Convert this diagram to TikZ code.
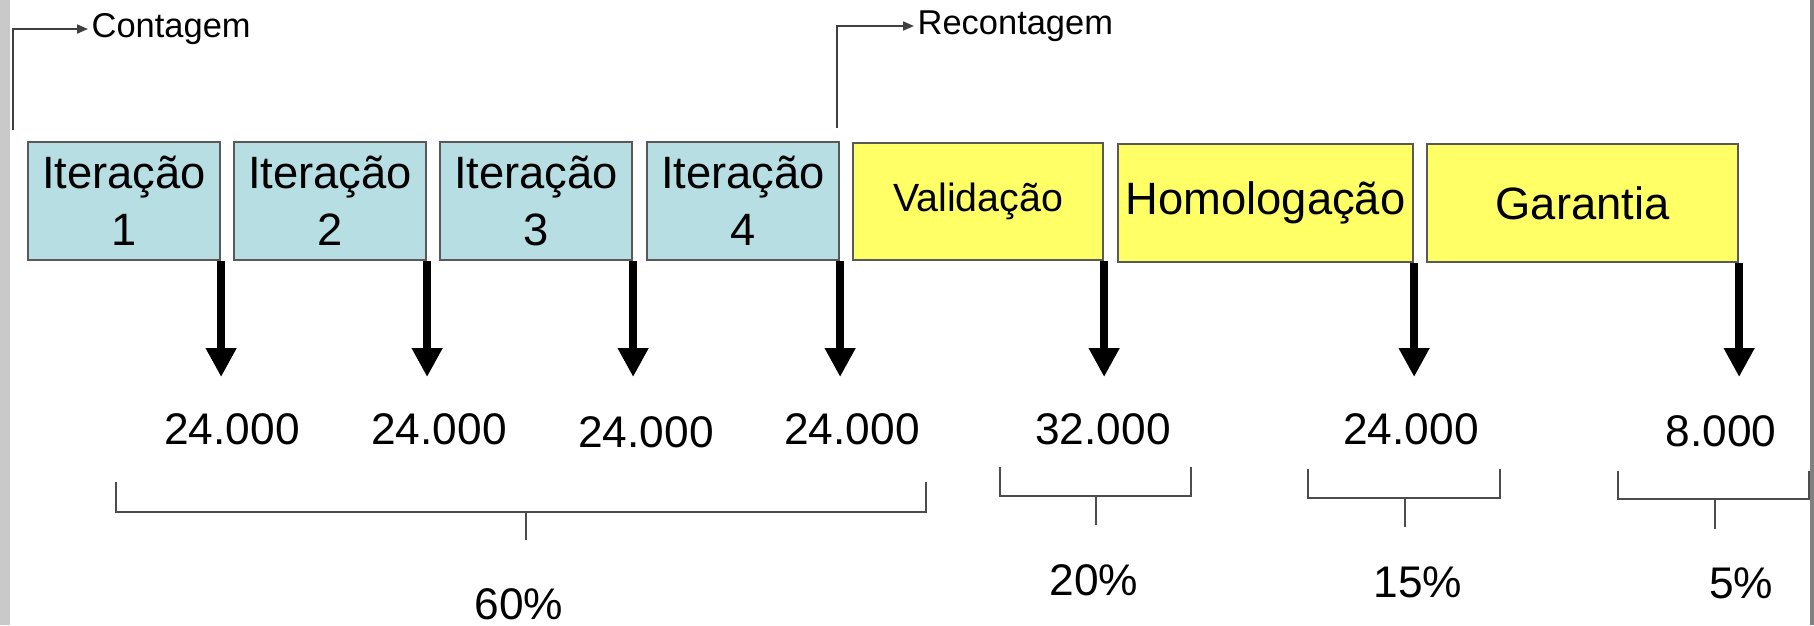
\documentclass[tikz,border=0pt]{standalone}
\usepackage{fontspec}
\setmainfont{Liberation Sans}
\usetikzlibrary{arrows.meta}

\definecolor{iterblue}{RGB}{183,222,226}
\definecolor{phaseyellow}{RGB}{255,255,102}

\begin{document}
\begin{tikzpicture}[
		>={Triangle[length=0.11cm,width=0.09cm]},
		flow/.style={->,draw=black!75,line width=0.5pt},
		note/.style={anchor=west,inner sep=0.03cm,font=\fontsize{9.8}{12}\selectfont},
		phase/.style={draw=black!65,line width=0.6pt,inner sep=0pt,align=center,anchor=north west,
			minimum height=1.18cm,font=\fontsize{12.9}{16.2}\selectfont},
		iter/.style={phase,fill=iterblue,minimum width=1.92cm},
		post/.style={phase,fill=phaseyellow},
		payout/.style={line width=0.08cm,-{Triangle[length=0.29cm,width=0.29cm]}},
		amount/.style={inner sep=0pt,font=\fontsize{12.6}{15}\selectfont},
		bracket/.style={draw=black!70,line width=0.6pt}
	]
		\useasboundingbox (0,0) rectangle (18.14,-6.25);

		%page edges
		\fill[black!21] (0,0) rectangle (0.10,-6.25);
		\fill[black!50] (18.10,0) rectangle (18.14,-6.25);

		%phases
		\node[iter] (i1) at (0.27,-1.41) {Iteração\\1};
		\node[iter] (i2) at (2.33,-1.41) {Iteração\\2};
		\node[iter] (i3) at (4.39,-1.41) {Iteração\\3};
		\node[iter] (i4) at (6.46,-1.41) {Iteração\\4};
		\node[post,minimum width=2.50cm,minimum height=1.17cm,font=\fontsize{11.2}{13}\selectfont] (val) at (8.52,-1.42) {Validação};
		\node[post,minimum width=2.95cm] (hom) at (11.17,-1.43) {Homologação};
		\node[post,minimum width=3.11cm] (gar) at (14.26,-1.43) {Garantia};

		% counting marks
		\node[note] (cont) at (0.88,-0.29) {Contagem};
		\coordinate (contfoot) at (0.13,-1.30);
		\draw[flow] (contfoot) |- (cont.west);

		\node[note] (recont) at (9.14,-0.26) {Recontagem};
		\coordinate (recontfoot) at (8.37,-1.28);
		\draw[flow] (recontfoot) |- (recont.west);

		%payment arrows
		\foreach \b in {i1,i2,i3,i4,val,hom,gar} {
			\coordinate (\b tip) at (\b.south east |- 0,-3.77);
			\draw[payout] (\b.south east) -- (\b tip);
		}

		%amounts
		\node[amount] (n1) at (2.32,-4.29) {24.000};
		\node[amount] (n2) at (4.39,-4.29) {24.000};
		\node[amount] (n3) at (6.46,-4.32) {24.000};
		\node[amount] (n4) at (8.52,-4.29) {24.000};
		\node[amount] (n5) at (11.03,-4.29) {32.000};
		\node[amount] (n6) at (14.11,-4.29) {24.000};
		\node[amount] (n7) at (17.21,-4.31) {8.000};

		%brackets
		\draw[bracket] (1.16,-4.82) -- (1.16,-5.12) -- (9.26,-5.12) -- (9.26,-4.82);
		\draw[bracket] (5.26,-5.12) -- (5.26,-5.40);
		\draw[bracket] (10.00,-4.67) -- (10.00,-4.96) -- (11.91,-4.96) -- (11.91,-4.67);
		\draw[bracket] (10.96,-4.96) -- (10.96,-5.25);
		\draw[bracket] (13.08,-4.69) -- (13.08,-4.98) -- (15.00,-4.98) -- (15.00,-4.69);
		\draw[bracket] (14.05,-4.98) -- (14.05,-5.27);
		\draw[bracket] (16.18,-4.71) -- (16.18,-4.99) -- (18.09,-4.99) -- (18.09,-4.71);
		\draw[bracket] (17.15,-4.99) -- (17.15,-5.29);

		%shares
		\node[amount] (p60) at (5.19,-6.04) {60\%};
		\node[amount] (p20) at (10.94,-5.80) {20\%};
		\node[amount] (p15) at (14.18,-5.82) {15\%};
		\node[amount] (p5) at (17.41,-5.83) {5\%};
	\end{tikzpicture}
\end{document}
